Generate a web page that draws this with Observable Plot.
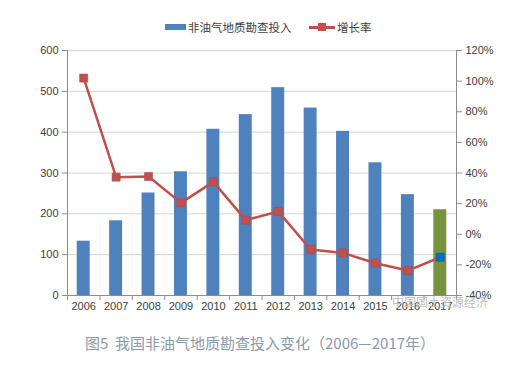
<!DOCTYPE html>
<html><head><meta charset="utf-8">
<script src="https://cdn.jsdelivr.net/npm/d3@7"></script>
<script src="https://cdn.jsdelivr.net/npm/@observablehq/plot@0.6"></script>
<style>
body{margin:0;background:#fff;width:529px;height:367px;position:relative;overflow:hidden;font-family:"Liberation Sans",Arial,sans-serif}
.abs{position:absolute}
.lg{font-family:"Noto Sans CJK SC",sans-serif;font-size:11.5px;color:#404040;line-height:16px}
#caption{font-family:"Noto Sans CJK SC",sans-serif;font-size:15px;color:#8a9aaa;white-space:pre;line-height:20px}
#wm{font-family:"Noto Sans CJK SC",sans-serif;font-size:12px;color:#bdbdbd;white-space:pre;line-height:14px}
</style></head><body>
<div class="abs" style="left:165px;top:24px;width:21px;height:6px;background:#4F81BD"></div>
<div class="abs lg" style="left:188px;top:19px">非油气地质勘查投入</div>
<div class="abs" style="left:309px;top:26px;width:26px;height:2.5px;background:#C0504D"></div>
<div class="abs" style="left:318px;top:23px;width:8px;height:8px;background:#C0504D"></div>
<div class="abs lg" style="left:337px;top:19px">增长率</div>
<div id="chart" class="abs" style="left:0;top:40px"></div>
<div id="wm" class="abs" style="left:392px;top:295px">中国国土资源经济</div>
<div id="caption" class="abs" style="left:85px;top:333px">图5  我国非油气地质勘查投入变化（2006—2017年）</div>
<script>
const years = ["2006","2007","2008","2009","2010","2011","2012","2013","2014","2015","2016","2017"];
const investment = [133,183,251,303,407,443,509,459,402,325,247,210];
const growth = [102,37.3,37.7,20.5,34.2,9.2,14.9,-10,-12.2,-18.9,-23.7,-15];
const leftTicks = [0,100,200,300,400,500,600];
const rightTicks = [-40,-20,0,20,40,60,80,100,120];

const toLeft = g => (g + 40) * 600 / 160;
const fromLeft = v => Math.round(v * 160 / 600 - 40);
const data = years.map((y, i) => ({year: y, i, v: investment[i], g: growth[i], last: i === years.length - 1}));
const n = years.length;
const axisColor = "#8c8c8c";

const chart = Plot.plot({
  width: 529,
  height: 275,
  marginTop: 10,
  marginBottom: 20,
  marginLeft: 67,
  marginRight: 73,
  style: {fontFamily: "'Liberation Sans', Arial, sans-serif", fontSize: "11px", color: "#404040", background: "white", overflow: "visible"},
  x: {type: "linear", domain: [0, n]},
  y: {domain: [0, 600]},
  marks: [
    Plot.gridY(leftTicks, {stroke: "#d4d4d4", strokeOpacity: 1}),
    Plot.rectY(data, {x1: d => d.i + 0.3, x2: d => d.i + 0.7, y: "v", fill: d => d.last ? "#77933C" : "#4F81BD"}),
    Plot.ruleY([0], {stroke: axisColor}),
    Plot.ruleX([0, n], {y1: 0, y2: 600, stroke: axisColor}),
    Plot.line(data, {x: d => d.i + 0.5, y: d => toLeft(d.g), stroke: "#C0504D", strokeWidth: 2.5}),
    Plot.dot(data, {x: d => d.i + 0.5, y: d => toLeft(d.g), symbol: "square", r: 4.6, fill: d => d.last ? "#0070C0" : "#C0504D", stroke: d => d.last ? "#1f4e79" : "#B04543", strokeWidth: 0.5}),
    Plot.axisY({anchor: "left", ticks: leftTicks, tickSize: 5, tickPadding: 4, stroke: axisColor, label: null, fontSize: 11}),
    Plot.axisY({anchor: "right", ticks: rightTicks.map(toLeft), tickFormat: d => fromLeft(d) + "%", tickSize: 5, tickPadding: 4, stroke: axisColor, label: null, fontSize: 11}),
    Plot.axisX({ticks: d3.range(n + 1), tickFormat: () => "", tickSize: 5, stroke: axisColor, label: null}),
    Plot.axisX({ticks: d3.range(n).map(i => i + 0.5), tickFormat: d => years[Math.floor(d)], tickSize: 0, tickPadding: 7, label: null, fontSize: 11})
  ]
});
document.getElementById("chart").appendChild(chart);
</script>
</body></html>
